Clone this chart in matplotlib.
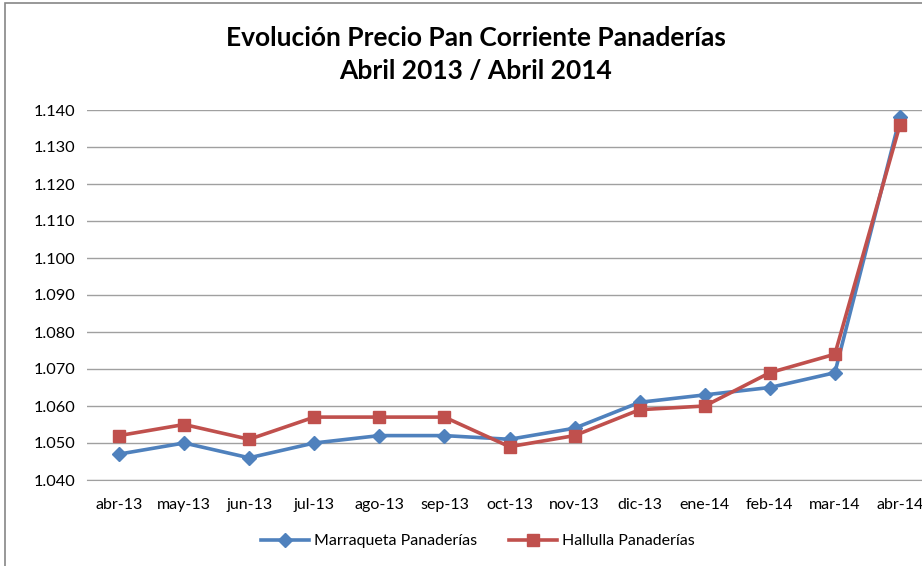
import matplotlib
matplotlib.use("Agg")
import matplotlib.pyplot as plt
from matplotlib.patches import Rectangle

categories = ["abr-13", "may-13", "jun-13", "jul-13", "ago-13", "sep-13", "oct-13",
              "nov-13", "dic-13", "ene-14", "feb-14", "mar-14", "abr-14"]
marraqueta = [1047, 1050, 1046, 1050, 1052, 1052, 1051, 1054, 1061, 1063, 1065, 1069, 1138]
hallulla = [1052, 1055, 1051, 1057, 1057, 1057, 1049, 1052, 1059, 1060, 1069, 1074, 1136]
yticks = [1040, 1050, 1060, 1070, 1080, 1090, 1100, 1110, 1120, 1130, 1140]
ytick_labels = ["1.040", "1.050", "1.060", "1.070", "1.080", "1.090", "1.100",
                "1.110", "1.120", "1.130", "1.140"]

plt.rcParams['font.family'] = ['Lato', 'DejaVu Sans']

fig = plt.figure(figsize=(9.22, 5.66), dpi=100)
fig.patch.set_facecolor("white")
fig.patches.append(Rectangle((5/922, -0.1), 1.2, 1 - 3/566 + 0.1, transform=fig.transFigure,
                             fill=False, edgecolor="#868686", linewidth=1.2))

ax = fig.add_axes([86.5/922, 1 - 480/566, (932.5 - 86.5)/922, (480 - 110)/566])
x = list(range(len(categories)))
ax.plot(x, marraqueta, color="#4F81BD", linewidth=2.6, marker="D", markersize=7.5,
        label="Marraqueta Panaderías", zorder=3)
ax.plot(x, hallulla, color="#C0504D", linewidth=2.6, marker="s", markersize=9,
        label="Hallulla Panaderías", zorder=4)

ax.set_xlim(-0.5, len(categories) - 0.5)
ax.set_ylim(1040, 1140)
ax.set_yticks(yticks)
ax.set_yticklabels(ytick_labels)
ax.set_xticks(x)
ax.set_xticklabels(categories)
ax.grid(axis="y", color="#A0A0A0", linewidth=1)
ax.set_axisbelow(True)
for s in ["top", "right", "left"]:
    ax.spines[s].set_visible(False)
ax.spines["bottom"].set_color("#A0A0A0")
ax.tick_params(axis="y", length=0, labelsize=11.8, colors="black", pad=8)
ax.tick_params(axis="x", length=0, labelsize=11.5, colors="black", pad=13)

fig.text(476/922, 1 - 55/566, "Evolución Precio Pan Corriente Panaderías\nAbril 2013 / Abril 2014",
         ha="center", va="center", fontsize=19, fontweight="bold", linespacing=1.45)

leg = fig.legend(loc="center", bbox_to_anchor=(478/922, 1 - 541/566), ncol=2, frameon=False,
                 fontsize=11.5, handlelength=3.0, columnspacing=2.0, handletextpad=0.3)

fig.savefig("out.png", dpi=100, facecolor="white")
